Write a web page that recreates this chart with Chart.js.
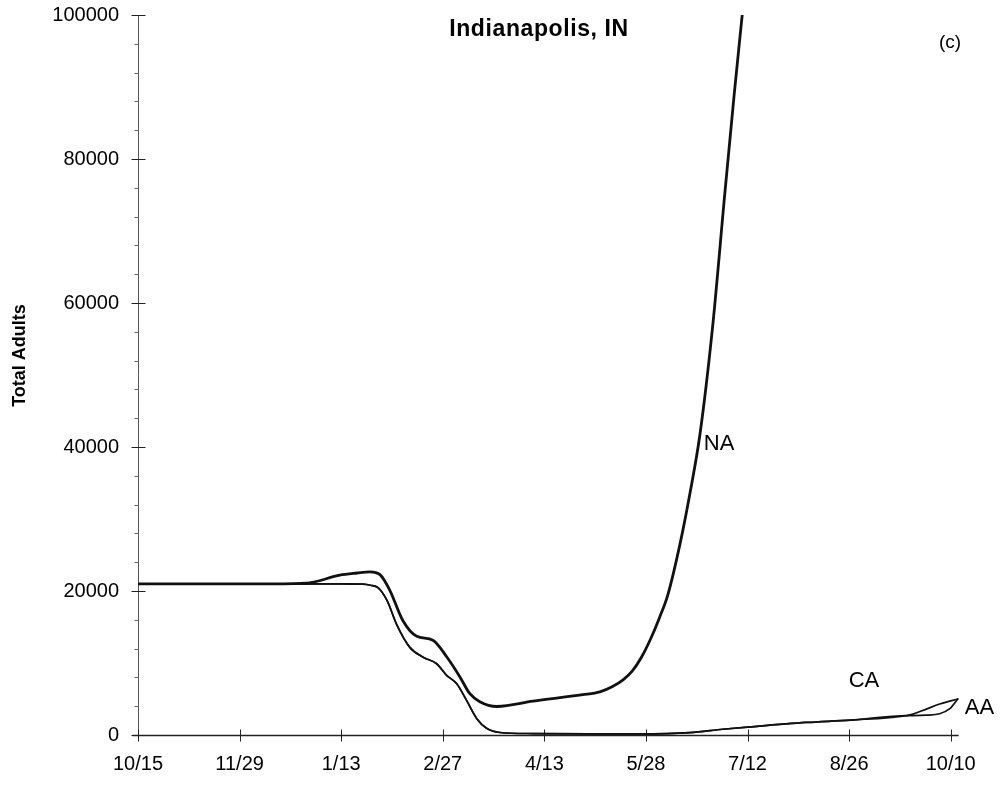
<!DOCTYPE html>
<html>
<head>
<meta charset="utf-8">
<script src="https://cdn.jsdelivr.net/npm/chart.js@4.4.1/dist/chart.umd.min.js"></script>
<style>
  html, body { margin: 0; padding: 0; background: #ffffff; }
  #wrap { width: 1003px; height: 789px; position: relative; }
</style>
</head>
<body>
<div id="wrap"><canvas id="chart"></canvas></div>
<script>
// ---------- text ----------
const chartTitle = 'Indianapolis, IN';
const panelTag = '(c)';
const yAxisTitle = 'Total Adults';

// ---------- axes ----------
const xTickDays   = [0, 45, 90, 135, 180, 225, 270, 315, 360];
const xTickLabels = ['10/15', '11/29', '1/13', '2/27', '4/13', '5/28', '7/12', '8/26', '10/10'];
const yTickValues = [0, 20000, 40000, 60000, 80000, 100000];
const yMinorStep = 4000;
const xMin = 0, xMax = 365, yMin = 0, yMax = 100000;

// ---------- series (day since 10/15, total adults) ----------
const naDays   = [0, 30, 60, 75, 89.4, 97, 102.7, 107.2, 111.6, 117.3, 123.5, 130.6, 136.8, 142.6, 147, 151.4, 159, 175, 197, 204.6, 210, 215, 219, 223, 227, 231, 234.7, 240, 244.4, 248.9, 254.5, 259.9, 264.1, 267.9];
const naValues = [21000, 21000, 21000, 21100, 22200, 22500, 22670, 22270, 20060, 15900, 13700, 13170, 10830, 8070, 5730, 4630, 3960, 4700, 5600, 6000, 6700, 7700, 8900, 10800, 13300, 16300, 19470, 26400, 33400, 41700, 56600, 75100, 89000, 100800];

const caDays   = [0, 30, 60, 90, 99.6, 103, 106.3, 110.4, 114.5, 120.4, 126.3, 132.3, 136.7, 141.1, 145.5, 150, 154.4, 160.3, 175, 200, 222, 244.4, 259, 270, 296, 315.7, 340.5, 343.3, 349.2, 355.1, 363.1];
const caValues = [21000, 21000, 21000, 21000, 20950, 20800, 20460, 18630, 15400, 12170, 10800, 9900, 8290, 7140, 4840, 2300, 930, 350, 200, 150, 150, 330, 800, 1100, 1740, 2070, 2700, 2900, 3600, 4300, 5000];

const aaDays   = [0, 30, 60, 90, 99.6, 103, 106.3, 110.4, 114.5, 120.4, 126.3, 132.3, 136.7, 141.1, 145.5, 150, 154.4, 160.3, 175, 200, 222, 244.4, 259, 270, 296, 315.7, 340.5, 343.3, 349.2, 355.1, 359.6, 363.1];
const aaValues = [21000, 21000, 21000, 21000, 20950, 20800, 20460, 18630, 15400, 12170, 10800, 9900, 8290, 7140, 4840, 2300, 930, 350, 200, 150, 150, 330, 800, 1100, 1740, 2070, 2700, 2700, 2750, 2950, 3650, 5000];

// ---------- series labels (anchored in data space) ----------
const seriesLabelText   = ['NA', 'CA', 'AA'];
const seriesLabelDays   = [250.6, 314.8, 366.2];
const seriesLabelValues = [39600, 6700, 2900];

const FONT = '"Liberation Sans", Arial, Helvetica, sans-serif';
const toPoints = (xs, ys) => xs.map((d, i) => ({ x: d, y: ys[i] }));

const overlayPlugin = {
  id: 'overlay',
  beforeDatasetsDraw(chart) {
    const { ctx, scales: { x, y } } = chart;
    const x0 = Math.round(x.getPixelForValue(xMin)) + 0.5;
    const yTop = y.getPixelForValue(yMax);
    const y0 = Math.round(y.getPixelForValue(0)) + 0.5;
    ctx.save();
    // y axis line
    ctx.strokeStyle = '#555';
    ctx.lineWidth = 1;
    ctx.beginPath();
    ctx.moveTo(x0, yTop);
    ctx.lineTo(x0, y0);
    ctx.stroke();
    // y minor + major ticks
    for (let v = yMin; v <= yMax; v += yMinorStep) {
      const py = Math.round(y.getPixelForValue(v)) + 0.5;
      const major = yTickValues.includes(v);
      ctx.strokeStyle = major ? '#222' : '#666';
      ctx.beginPath();
      ctx.moveTo(x0 - (major ? 7 : 4), py);
      ctx.lineTo(x0 + (major ? 7 : 0), py);
      ctx.stroke();
    }
    // x axis line
    ctx.strokeStyle = '#222';
    ctx.lineWidth = 1.4;
    ctx.beginPath();
    ctx.moveTo(x0 - 6, y0);
    ctx.lineTo(x.getPixelForValue(363.5), y0);
    ctx.stroke();
    // x major ticks
    ctx.lineWidth = 1;
    xTickDays.forEach(d => {
      const px = Math.round(x.getPixelForValue(d)) + 0.5;
      ctx.beginPath();
      ctx.moveTo(px, y0 - 6);
      ctx.lineTo(px, y0 + 6);
      ctx.stroke();
    });
    ctx.restore();
  },
  afterDraw(chart) {
    const { ctx, scales: { x, y } } = chart;
    ctx.save();
    ctx.fillStyle = '#000';
    // title
    ctx.font = 'bold 23px ' + FONT;
    try { ctx.letterSpacing = '0.6px'; } catch (e) {}
    ctx.textAlign = 'center';
    ctx.textBaseline = 'alphabetic';
    ctx.fillText(chartTitle, 539, 36);
    try { ctx.letterSpacing = '0px'; } catch (e) {}
    // panel tag
    ctx.font = '19px ' + FONT;
    ctx.fillText(panelTag, 950, 48);
    // y axis title
    ctx.save();
    ctx.font = 'bold 18px ' + FONT;
    ctx.translate(25, 355.5);
    ctx.rotate(-Math.PI / 2);
    ctx.textAlign = 'center';
    ctx.fillText(yAxisTitle, 0, 0);
    ctx.restore();
    // series labels
    ctx.font = '22px ' + FONT;
    ctx.textAlign = 'left';
    seriesLabelText.forEach((t, i) => {
      ctx.fillText(t, x.getPixelForValue(seriesLabelDays[i]), y.getPixelForValue(seriesLabelValues[i]));
    });
    ctx.restore();
  }
};

const lineStyle = (w) => ({
  borderColor: '#111',
  borderWidth: w,
  pointRadius: 0,
  fill: false,
  cubicInterpolationMode: 'monotone',
  borderJoinStyle: 'round',
  borderCapStyle: 'round'
});

new Chart(document.getElementById('chart'), {
  type: 'line',
  data: {
    datasets: [
      Object.assign({ label: 'NA', data: toPoints(naDays, naValues) }, lineStyle(2.8)),
      Object.assign({ label: 'CA', data: toPoints(caDays, caValues) }, lineStyle(1.7)),
      Object.assign({ label: 'AA', data: toPoints(aaDays, aaValues) }, lineStyle(1.7))
    ]
  },
  options: {
    responsive: true,
    maintainAspectRatio: false,
    animation: false,
    devicePixelRatio: 1,
    layout: { padding: { top: 15, right: 41, bottom: 0, left: 0 } },
    plugins: { legend: { display: false }, tooltip: { enabled: false }, title: { display: false } },
    scales: {
      x: {
        type: 'linear',
        min: xMin,
        max: xMax,
        grid: { display: false, drawTicks: false },
        border: { display: false },
        afterBuildTicks: (scale) => { scale.ticks = xTickDays.map(v => ({ value: v })); },
        afterFit: (scale) => { scale.height = 54; scale.paddingLeft = 0; scale.paddingRight = 0; },
        ticks: {
          autoSkip: false,
          maxRotation: 0,
          padding: 17,
          color: '#000',
          font: { family: FONT, size: 20 },
          callback: (value) => xTickLabels[xTickDays.indexOf(value)]
        }
      },
      y: {
        min: yMin,
        max: yMax,
        grid: { display: false, drawTicks: false },
        border: { display: false },
        afterBuildTicks: (scale) => { scale.ticks = yTickValues.map(v => ({ value: v })); },
        afterFit: (scale) => { scale.width = 138; scale.paddingTop = 0; scale.paddingBottom = 0; },
        ticks: {
          padding: 19,
          color: '#000',
          font: { family: FONT, size: 20 },
          callback: (value) => String(value)
        }
      }
    }
  },
  plugins: [overlayPlugin]
});
</script>
</body>
</html>
